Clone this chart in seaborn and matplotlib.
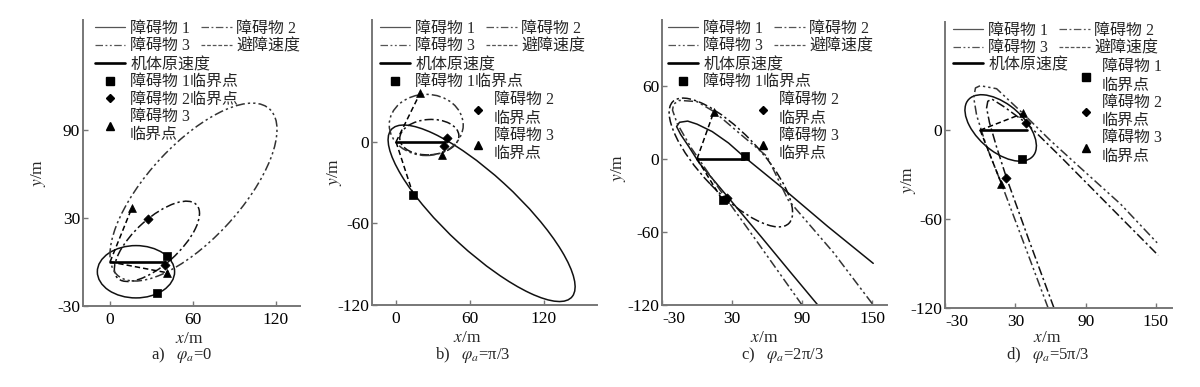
import matplotlib
matplotlib.use('Agg')
import matplotlib.pyplot as plt
from matplotlib.patches import Ellipse
from matplotlib.lines import Line2D
import seaborn as sns

# ---------------- data ----------------
legend_line_labels = ['障碍物 1', '障碍物 2', '障碍物 3', '避障速度']
orig_label = '机体原速度'
panel_letters = ['a)', 'b)', 'c)', 'd)']
panel_phase = ['0', 'π/3', '2π/3', '5π/3']

# original velocity (same in all panels)
orig_x = [0, 40]
orig_y = [0, 0]

# ---- panel a ----
a_ell_obs = [1, 2, 3]
a_ell_cx = [18.8, 34, 60.5]
a_ell_cy = [-6.7, 14, 47.5]
a_ell_w = [56, 76, 158]
a_ell_h = [35.6, 32, 66]
a_ell_ang = [0, 40, 45]
a_sq_x, a_sq_y = [41, 33.8], [4.2, -21]
a_dm_x, a_dm_y = [27.3, 40], [29, -2]
a_tr_x, a_tr_y = [15.7, 41], [36.5, -7.3]
a_av_x, a_av_y = [15.7, 41], [36.5, -7.3]
a_xticks, a_yticks = [0, 60, 120], [-30, 30, 90]
a_xlim, a_ylim = (-19.6, 137.7), (-30, 164.6)

# ---- panel b ----
b_ell_obs = [1, 2, 3]
b_ell_cx = [69.4, 27, 24.5]
b_ell_cy = [-52.5, 3.5, 12.5]
b_ell_w = [191.4, 48, 60]
b_ell_h = [57, 26, 45]
b_ell_ang = [-39.7, 3, 0]
b_sq_x, b_sq_y = [14], [-39]
b_dm_x, b_dm_y = [41, 39], [3, -3]
b_tr_x, b_tr_y = [19.5, 37], [35.8, -9.6]
b_av_x, b_av_y = [19.5, 14], [35.8, -39]
b_xticks, b_yticks = [0, 60, 120], [-120, -60, 0]
b_xlim, b_ylim = (-19.5, 163), (-120, 89.7)

# ---- panel c ----
c_ell_obs = [2]
c_ell_cx = [29]
c_ell_cy = [-3]
c_ell_w = [141]
c_ell_h = [50]
c_ell_ang = [-45]
c_obs1_x = [103.5, 80, 55, 27, 2, -7, -14, -17.5, -15, -8, 0, 13, 27, 40, 72, 112, 151]
c_obs1_y = [-120, -93, -64, -32, -3.5, 10, 20, 26.5, 30, 31, 28.5, 22.4, 13, 2, -23, -55.5, -85.8]
c_obs3_x = [90, 50, 20, -5, -17, -21, -20, -15, 0, 14.5, 40, 60, 78, 117, 151]
c_obs3_y = [-120, -66, -26, 9, 29, 40, 45, 48, 47, 38.8, 18, 2, -33.6, -77, -120]
c_sq_x, c_sq_y = [41, 22], [2, -34]
c_dm_x, c_dm_y = [26], [-32]
c_tr_x, c_tr_y = [14.5, 24], [38.8, -33]
c_av_x, c_av_y = [14.5, 22], [38.8, -34]
c_xticks, c_yticks = [-30, 30, 90, 150], [-120, -60, 0, 60]
c_xlim, c_ylim = (-30, 162.8), (-120, 114)

# ---- panel d ----
d_ell_obs = [1]
d_ell_cx = [17.5]
d_ell_cy = [1.5]
d_ell_w = [67.6]
d_ell_h = [34]
d_ell_ang = [-30]
d_obs2_x = [63, 42, 22.4, 14, 8, 5.5, 6.5, 10, 20, 39.3, 70, 110, 152]
d_obs2_y = [-120, -75, -32, -11.3, 5, 15, 19.5, 21, 16, 4.9, -19, -51, -84.5]
d_obs3_x = [58, 40, 18.1, 5, -3, -5.5, -4, 0, 14, 36.5, 60, 85, 120, 151]
d_obs3_y = [-120, -82, -36, -10, 10, 22, 28.5, 30, 28, 11.3, -7, -25, -50, -76]
d_sq_x, d_sq_y = [36], [-19.5]
d_dm_x, d_dm_y = [39.3, 22.4], [4.9, -32]
d_tr_x, d_tr_y = [36.5, 18.1], [11.3, -36]
d_av_x, d_av_y = [36.5, 18.1], [11.3, -36]
d_xticks, d_yticks = [-30, 30, 90, 150], [-120, -60, 0]
d_xlim, d_ylim = (-30, 163.7), (-120, 73)

# ---------------- style ----------------
sns.set_theme(style='ticks')
plt.rcParams['font.family'] = ['Liberation Serif', 'Noto Sans CJK SC']
plt.rcParams['mathtext.fontset'] = 'stix'
plt.rcParams['axes.unicode_minus'] = False

INK = 'black'
AX_COL = '#777777'
obs_style = {1: '-', 2: (0, (6, 2, 1.5, 2)), 3: (0, (6, 2, 1.5, 2, 1.5, 2))}
obs_color = {1: '#111111', 2: '#111111', 3: '#333333'}
LW = 1.1

W, H = 1200, 387
fig = plt.figure(figsize=(12, 3.87), dpi=100)


def fx(px):
    return px / W


def fy(py):
    return 1 - py / H


# axes boxes in pixels: left, right, top, bottom
boxes = [(83, 300, 20, 306), (372, 597, 20, 305), (662, 887, 20, 305), (945, 1172, 22, 308)]
axes = [fig.add_axes([fx(l), fy(b), fx(r - l), (b - t) / H]) for (l, r, t, b) in boxes]

panels = [
    dict(ell=(a_ell_obs, a_ell_cx, a_ell_cy, a_ell_w, a_ell_h, a_ell_ang), curves=[],
         sq=(a_sq_x, a_sq_y), dm=(a_dm_x, a_dm_y), tr=(a_tr_x, a_tr_y), av=(a_av_x, a_av_y),
         xt=a_xticks, yt=a_yticks, xl=a_xlim, yl=a_ylim, shift_first=False),
    dict(ell=(b_ell_obs, b_ell_cx, b_ell_cy, b_ell_w, b_ell_h, b_ell_ang), curves=[],
         sq=(b_sq_x, b_sq_y), dm=(b_dm_x, b_dm_y), tr=(b_tr_x, b_tr_y), av=(b_av_x, b_av_y),
         xt=b_xticks, yt=b_yticks, xl=b_xlim, yl=b_ylim, shift_first=False),
    dict(ell=(c_ell_obs, c_ell_cx, c_ell_cy, c_ell_w, c_ell_h, c_ell_ang),
         curves=[(1, c_obs1_x, c_obs1_y), (3, c_obs3_x, c_obs3_y)],
         sq=(c_sq_x, c_sq_y), dm=(c_dm_x, c_dm_y), tr=(c_tr_x, c_tr_y), av=(c_av_x, c_av_y),
         xt=c_xticks, yt=c_yticks, xl=c_xlim, yl=c_ylim, shift_first=True),
    dict(ell=(d_ell_obs, d_ell_cx, d_ell_cy, d_ell_w, d_ell_h, d_ell_ang),
         curves=[(2, d_obs2_x, d_obs2_y), (3, d_obs3_x, d_obs3_y)],
         sq=(d_sq_x, d_sq_y), dm=(d_dm_x, d_dm_y), tr=(d_tr_x, d_tr_y), av=(d_av_x, d_av_y),
         xt=d_xticks, yt=d_yticks, xl=d_xlim, yl=d_ylim, shift_first=True),
]

for ax, p in zip(axes, panels):
    obs, cx, cy, w, h, ang = p['ell']
    for o, x0, y0, ww, hh, aa in zip(obs, cx, cy, w, h, ang):
        ax.add_patch(Ellipse((x0, y0), ww, hh, angle=aa, fill=False,
                             ec=obs_color[o], lw=LW, ls=obs_style[o], zorder=2))
    for o, xs, ys in p['curves']:
        sns.lineplot(x=xs, y=ys, ax=ax, sort=False, estimator=None, color=obs_color[o],
                     lw=LW, linestyle=obs_style[o], legend=False, zorder=2)
    for ex, ey in zip(*p['av']):
        sns.lineplot(x=[0, ex], y=[0, ey], ax=ax, sort=False, estimator=None, color=INK,
                     lw=LW, linestyle=(0, (3.5, 2)), legend=False, zorder=3)
    sns.lineplot(x=orig_x, y=orig_y, ax=ax, sort=False, estimator=None, color=INK,
                 lw=1.9, legend=False, zorder=4)
    for key, mk, sz in [('sq', 's', 30), ('dm', 'D', 22), ('tr', '^', 32)]:
        xs, ys = p[key]
        sns.scatterplot(x=xs, y=ys, ax=ax, marker=mk, s=sz, color=INK, edgecolor=INK,
                        linewidth=0.5, legend=False, zorder=5)
    ax.set_xlim(*p['xl'])
    ax.set_ylim(*p['yl'])
    ax.set_xticks(p['xt'])
    ax.set_yticks(p['yt'])
    ax.set_xlabel('')
    ax.set_ylabel('')
    ax.set_facecolor('none')
    ax.grid(False)
    for s in ['top', 'right']:
        ax.spines[s].set_visible(False)
    for s in ['left', 'bottom']:
        ax.spines[s].set_color(AX_COL)
        ax.spines[s].set_linewidth(1.4)
    ax.tick_params(axis='both', direction='in', length=3.5, width=1, color=AX_COL,
                   labelsize=12.5, labelcolor=INK)
    ax.tick_params(axis='x', pad=4)
    ax.tick_params(axis='y', pad=2)
    if p['shift_first']:
        ax.xaxis.get_major_ticks()[0].label1.set_horizontalalignment('left')

# ---------------- legends ----------------
FS = 11.5
h_lines = [Line2D([], [], color='#555555', lw=0.9, ls=obs_style[1]),
           Line2D([], [], color='#555555', lw=0.9, ls=obs_style[2]),
           Line2D([], [], color='#555555', lw=0.9, ls=obs_style[3]),
           Line2D([], [], color='#555555', lw=0.9, ls=(0, (3, 1.5)))]
h_orig = Line2D([], [], color=INK, lw=1.9)
h_sq = Line2D([], [], color=INK, marker='s', ls='none', ms=5.5)
h_dm = Line2D([], [], color=INK, marker='D', ls='none', ms=4.5)
h_tr = Line2D([], [], color=INK, marker='^', ls='none', ms=6)


def add_leg(handles, labels, px, py, ncol=1, hl=1.9, htp=0.3):
    fig.legend(handles, labels, loc='upper left', bbox_to_anchor=(fx(px), fy(py)),
               bbox_transform=fig.transFigure, frameon=False, borderpad=0,
               borderaxespad=0, ncol=ncol, handlelength=hl, handletextpad=htp,
               columnspacing=0.7, labelspacing=0.08, fontsize=FS)


# ncol=2 fills column-wise: col1 = 障碍物1, 障碍物3 ; col2 = 障碍物2, 避障速度
col_handles = [h_lines[0], h_lines[2], h_lines[1], h_lines[3]]
col_labels = [legend_line_labels[0], legend_line_labels[2], legend_line_labels[1], legend_line_labels[3]]

# panel a
add_leg(col_handles, col_labels, 95, 21, ncol=2)
add_leg([h_orig, h_sq, h_dm, h_tr],
        [orig_label, '障碍物 1临界点', '障碍物 2临界点', '障碍物 3\n临界点'], 95, 57)
# panel b
add_leg(col_handles, col_labels, 380, 21, ncol=2)
add_leg([h_orig, h_sq], [orig_label, '障碍物 1临界点'], 380, 57)
add_leg([h_dm, h_tr], ['障碍物 2\n临界点', '障碍物 3\n临界点'], 470, 92, hl=1.0, htp=0.5)
# panel c
add_leg(col_handles, col_labels, 668, 21, ncol=2)
add_leg([h_orig, h_sq], [orig_label, '障碍物 1临界点'], 668, 57)
add_leg([h_dm, h_tr], ['障碍物 2\n临界点', '障碍物 3\n临界点'], 755, 92, hl=1.0, htp=0.5)
# panel d
add_leg(col_handles, col_labels, 953, 23, ncol=2)
add_leg([h_orig], [orig_label], 953, 57)
add_leg([h_sq, h_dm, h_tr], ['障碍物 1\n临界点', '障碍物 2\n临界点', '障碍物 3\n临界点'],
        1078, 59, hl=1.0, htp=0.5)

# ---------------- axis labels & captions ----------------
xlab_pos = [(189, 339), (467, 338), (764, 338), (1047, 338)]
cap_pos = [(182, 355), (473, 355), (782, 355), (1048, 355)]
ylab_pos = [(39, 173), (334, 172), (619, 168), (908, 180)]
for (xx, yy) in xlab_pos:
    fig.text(fx(xx), fy(yy), r'$x$/m', ha='center', va='center', fontsize=12.5)
for (xx, yy) in ylab_pos:
    fig.text(fx(xx), fy(yy), r'$y$/m', ha='center', va='center', fontsize=12.5, rotation=90)
for (xx, yy), let, ph in zip(cap_pos, panel_letters, panel_phase):
    fig.text(fx(xx), fy(yy), let + r'   $\varphi_a$=' + ph, ha='center', va='center', fontsize=12)

fig.savefig('out.png', dpi=100, facecolor='white')
